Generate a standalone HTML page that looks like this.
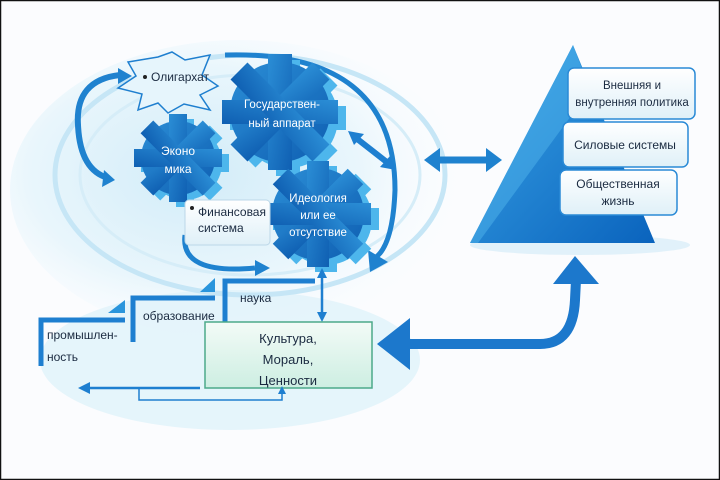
<!DOCTYPE html>
<html><head><meta charset="utf-8"><style>
html,body{margin:0;padding:0;background:#fff}
svg{display:block}
text{font-family:"Liberation Sans",sans-serif}
</style></head><body>
<svg width="720" height="480" viewBox="0 0 720 480" xmlns="http://www.w3.org/2000/svg">
<defs>
<radialGradient id="bg" cx="0.4" cy="0.45" r="0.6">
<stop offset="0" stop-color="#d2ecf8"/><stop offset="0.6" stop-color="#e9f6fc"/><stop offset="1" stop-color="#fbfdff" stop-opacity="0"/>
</radialGradient>
<linearGradient id="gear" x1="0" y1="0" x2="1" y2="1"><stop offset="0" stop-color="#2b8ed6"/><stop offset="1" stop-color="#0f5fb2"/></linearGradient>
<linearGradient id="pyr" x1="0" y1="0" x2="1" y2="1"><stop offset="0" stop-color="#3aa4e6"/><stop offset="1" stop-color="#0a63bd"/></linearGradient>
<linearGradient id="cult" x1="0" y1="0" x2="0" y2="1"><stop offset="0" stop-color="#f3fbf7"/><stop offset="1" stop-color="#cdeee2"/></linearGradient>
<linearGradient id="box" x1="0" y1="0" x2="0" y2="1"><stop offset="0" stop-color="#ffffff"/><stop offset="1" stop-color="#dff0f8"/></linearGradient>
</defs>
<rect width="720" height="480" fill="#fbfcfe"/>
<rect x="0.5" y="0.5" width="719" height="479" fill="none" stroke="#111" stroke-width="1.5"/>
<!-- background swirl -->
<ellipse cx="240" cy="190" rx="230" ry="150" fill="url(#bg)"/>
<ellipse cx="230" cy="360" rx="190" ry="70" fill="#e0f2fa" opacity="0.8"/>
<ellipse cx="250" cy="175" rx="195" ry="120" fill="none" stroke="#c6e6f6" stroke-width="5"/>
<ellipse cx="250" cy="175" rx="170" ry="100" fill="none" stroke="#d6edf8" stroke-width="3"/>
<!-- outer arcs with arrows -->
<path d="M120 75 Q 75 80 78 125 Q 80 170 108 178" fill="none" stroke="#1f82cf" stroke-width="6"/>
<polygon points="118,68 132,76 118,84" fill="#1f82cf"/>
<polygon points="104,170 115,180 102,187" fill="#1f82cf"/>
<path d="M225 55 Q 395 50 395 190 Q 393 245 375 258" fill="none" stroke="#1f82cf" stroke-width="5"/>
<polygon points="368,250 388,262 370,272" fill="#1f82cf"/>
<path d="M185 235 Q 180 275 255 268" fill="none" stroke="#1f82cf" stroke-width="5"/>
<polygon points="255,260 270,268 255,276" fill="#1f82cf"/>
<!-- small diagonal double arrow -->
<path d="M356 138 L 388 163" stroke="#1e7fd0" stroke-width="6"/>
<polygon points="348,131 364,134 354,145" fill="#1e7fd0"/>
<polygon points="396,170 380,167 390,156" fill="#1e7fd0"/>
<!-- gears -->
<g transform="translate(280,112)">
<g transform="translate(8,6)" fill="#4db6ec">
<circle r="50"/>
<rect x="-12" y="-58" width="24" height="116"/><rect x="-12" y="-58" width="24" height="116" transform="rotate(45)"/><rect x="-12" y="-58" width="24" height="116" transform="rotate(90)"/><rect x="-12" y="-58" width="24" height="116" transform="rotate(135)"/>
</g>
<g fill="url(#gear)">
<circle r="50"/>
<rect x="-12" y="-58" width="24" height="116"/><rect x="-12" y="-58" width="24" height="116" transform="rotate(45)"/><rect x="-12" y="-58" width="24" height="116" transform="rotate(90)"/><rect x="-12" y="-58" width="24" height="116" transform="rotate(135)"/>
</g>
<text x="2" y="-4" font-size="11.5" fill="#fff" text-anchor="middle">Государствен-</text>
<text x="2" y="15" font-size="11.5" fill="#fff" text-anchor="middle">ный аппарат</text>
</g>
<g transform="translate(178,158)">
<g transform="translate(7,5)" fill="#4db6ec">
<circle r="37"/>
<rect x="-9" y="-44" width="18" height="88"/><rect x="-9" y="-44" width="18" height="88" transform="rotate(45)"/><rect x="-9" y="-44" width="18" height="88" transform="rotate(90)"/><rect x="-9" y="-44" width="18" height="88" transform="rotate(135)"/>
</g>
<g fill="url(#gear)">
<circle r="37"/>
<rect x="-9" y="-44" width="18" height="88"/><rect x="-9" y="-44" width="18" height="88" transform="rotate(45)"/><rect x="-9" y="-44" width="18" height="88" transform="rotate(90)"/><rect x="-9" y="-44" width="18" height="88" transform="rotate(135)"/>
</g>
<text x="0" y="-3" font-size="12" fill="#fff" text-anchor="middle">Эконо</text>
<text x="0" y="15" font-size="12" fill="#fff" text-anchor="middle">мика</text>
</g>
<g transform="translate(318,214)">
<g transform="translate(8,5)" fill="#4db6ec">
<circle r="46"/>
<rect x="-11" y="-53" width="22" height="106"/><rect x="-11" y="-53" width="22" height="106" transform="rotate(45)"/><rect x="-11" y="-53" width="22" height="106" transform="rotate(90)"/><rect x="-11" y="-53" width="22" height="106" transform="rotate(135)"/>
</g>
<g fill="url(#gear)">
<circle r="46"/>
<rect x="-11" y="-53" width="22" height="106"/><rect x="-11" y="-53" width="22" height="106" transform="rotate(45)"/><rect x="-11" y="-53" width="22" height="106" transform="rotate(90)"/><rect x="-11" y="-53" width="22" height="106" transform="rotate(135)"/>
</g>
<text x="0" y="-12" font-size="11.5" fill="#fff" text-anchor="middle">Идеология</text>
<text x="0" y="5" font-size="11.5" fill="#fff" text-anchor="middle">или ее</text>
<text x="0" y="22" font-size="11.5" fill="#fff" text-anchor="middle">отсутствие</text>
</g>
<!-- star -->
<polygon points="128,62 158,57 172,52 185,60 210,55 202,75 218,86 200,95 210,110 184,104 168,113 158,103 138,110 142,94 118,88 136,76" fill="#e6f5fc" stroke="#1f7fcf" stroke-width="1.5"/>
<circle cx="145" cy="77" r="2" fill="#222"/>
<text x="151" y="81" font-size="12" fill="#1a2a40">Олигархат</text>
<!-- finance box -->
<rect x="185" y="200" width="85" height="45" rx="4" fill="url(#box)" stroke="#bcd7e8"/>
<circle cx="192" cy="208" r="2" fill="#222"/>
<text x="198" y="216" font-size="12" fill="#1a2a40">Финансовая</text>
<text x="198" y="232" font-size="12" fill="#1a2a40">система</text>
<!-- horizontal double arrow -->
<path d="M438 160 L 488 160" stroke="#1f82cf" stroke-width="7"/>
<polygon points="424,160 440,148 440,172" fill="#1f82cf"/>
<polygon points="502,160 486,148 486,172" fill="#1f82cf"/>
<!-- pyramid -->
<ellipse cx="580" cy="245" rx="110" ry="10" fill="#d5ecf8" opacity="0.7"/>
<polygon points="573,45 655,243 470,243" fill="url(#pyr)"/>
<polygon points="573,45 590,90 478,243 470,243" fill="#4fb3ec" opacity="0.5"/>
<rect x="568" y="68" width="127" height="51" rx="6" fill="url(#box)" stroke="#2a8ad6" stroke-width="1.5"/>
<text x="632" y="89" font-size="11.5" fill="#1a2a40" text-anchor="middle">Внешняя и</text>
<text x="632" y="106" font-size="11.5" fill="#1a2a40" text-anchor="middle">внутренняя политика</text>
<rect x="563" y="122" width="125" height="45" rx="6" fill="url(#box)" stroke="#2a8ad6" stroke-width="1.5"/>
<text x="625" y="149" font-size="12" fill="#1a2a40" text-anchor="middle">Силовые системы</text>
<rect x="560" y="170" width="117" height="45" rx="6" fill="url(#box)" stroke="#2a8ad6" stroke-width="1.5"/>
<text x="618" y="188" font-size="12" fill="#1a2a40" text-anchor="middle">Общественная</text>
<text x="618" y="205" font-size="12" fill="#1a2a40" text-anchor="middle">жизнь</text>
<!-- steps -->
<path d="M41 366 L41 320 L125 320" fill="none" stroke="#1e7fd0" stroke-width="5"/>
<polygon points="108,313 125,300 125,313" fill="#2a95dc"/>
<path d="M133 342 L133 298 L215 298" fill="none" stroke="#1e7fd0" stroke-width="5"/>
<polygon points="200,292 215,278 215,292" fill="#2a95dc"/>
<path d="M225 322 L225 281 L315 281" fill="none" stroke="#1e7fd0" stroke-width="5"/>
<text x="47" y="339" font-size="12" fill="#1a2a40">промышлен-</text>
<text x="47" y="361" font-size="12" fill="#1a2a40">ность</text>
<text x="143" y="320" font-size="12" fill="#1a2a40">образование</text>
<text x="240" y="302" font-size="12" fill="#1a2a40">наука</text>
<!-- vertical double arrow -->
<path d="M322 275 L322 318" stroke="#1e7fd0" stroke-width="2.5"/>
<polygon points="322,268 317,278 327,278" fill="#1e7fd0"/>
<polygon points="322,322 317,312 327,312" fill="#1e7fd0"/>
<!-- culture box -->
<rect x="205" y="322" width="167" height="66" fill="url(#cult)" stroke="#4caa8a" stroke-width="1.5"/>
<text x="288" y="343" font-size="13" fill="#1a2a40" text-anchor="middle">Культура,</text>
<text x="288" y="364" font-size="13" fill="#1a2a40" text-anchor="middle">Мораль,</text>
<text x="288" y="385" font-size="13" fill="#1a2a40" text-anchor="middle">Ценности</text>
<!-- bottom arrows -->
<path d="M200 388 L 88 388" stroke="#1e7fd0" stroke-width="2.5"/>
<polygon points="78,388 90,382 90,394" fill="#1e7fd0"/>
<path d="M139 388 L139 400 L282 400 L282 392" fill="none" stroke="#1e7fd0" stroke-width="1.5"/>
<polygon points="282,386 278,394 286,394" fill="#1e7fd0"/>
<!-- big arrow -->
<path d="M405 344 L 540 344 Q 573 344 575 300 L 576 280" fill="none" stroke="#1c78cc" stroke-width="10"/>
<polygon points="377,344 410,318 410,370" fill="#1c78cc"/>
<polygon points="575,256 553,284 599,284" fill="#1c78cc"/>
</svg>
</body></html>
